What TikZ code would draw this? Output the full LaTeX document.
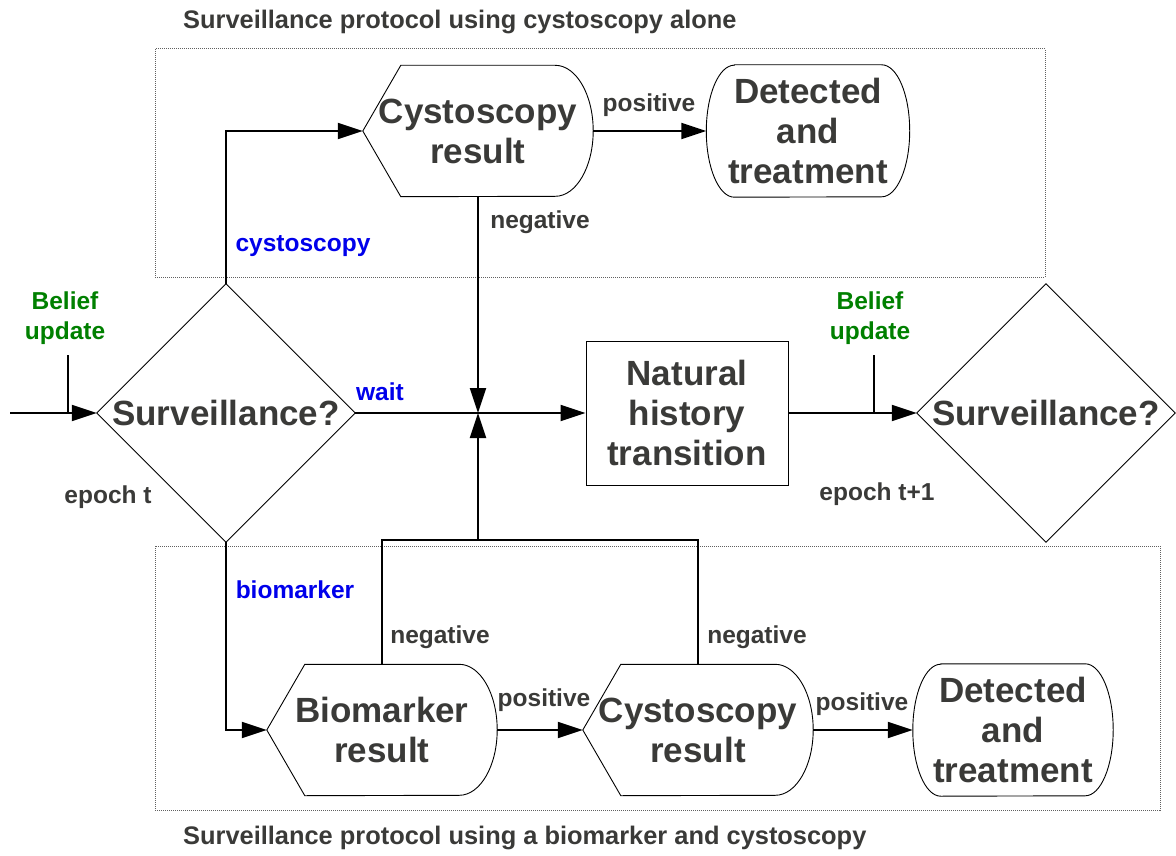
\documentclass[tikz,border=0pt]{standalone}
\usepackage{fontspec}
\setmainfont{Liberation Sans}
\usetikzlibrary{arrows.meta}
\definecolor{txt}{RGB}{58,58,56}
\definecolor{grn}{RGB}{0,128,0}
\definecolor{blu}{RGB}{0,0,235}
\newcommand\DispOutline[1]{\draw[outl] (#1.west) -- ([xshift=38pt]#1.north west) -- ([xshift=-38pt]#1.north east) arc[start angle=90,end angle=-90,x radius=38pt,y radius=65.5pt] -- ([xshift=38pt]#1.south west) -- cycle;}
\newcommand\TermOutline[1]{\draw[outl] ([xshift=28pt]#1.north west) -- ([xshift=-28pt]#1.north east) arc[start angle=90,end angle=-90,x radius=28pt,y radius=66pt] -- ([xshift=28pt]#1.south west) arc[start angle=270,end angle=90,x radius=28pt,y radius=66pt] -- cycle;}
\newcommand\DiaOutline[1]{\draw[outl] (#1.west) -- (#1.north) -- (#1.east) -- (#1.south) -- cycle;}
\begin{document}
\begin{tikzpicture}[x=1pt,y=-1pt,
  big/.style={font=\fontsize{35}{40}\selectfont\bfseries, text=txt, align=center, inner sep=0pt},
  lbl/.style={font=\fontsize{24.5}{30}\selectfont\bfseries, text=txt, align=center, inner sep=0pt},
  ttl/.style={lbl, font=\fontsize{25.4}{30}\selectfont\bfseries, anchor=west},
  glbl/.style={lbl, text=grn},
  blbl/.style={lbl, text=blu},
  disp/.style={big, minimum width=230pt, minimum height=131pt},
  term/.style={big, minimum width=203pt, minimum height=132pt},
  dia/.style={big, minimum width=258pt, minimum height=258pt},
  outl/.style={draw=black, line width=0.9pt},
  conn/.style={draw=black, line width=2pt},
  arr/.style={conn, -{Triangle[length=25pt,width=16pt]}},
  frame/.style={draw=gray!75!black, densely dotted, line width=1pt}]
\useasboundingbox (0,0) rectangle (1176,856);

% frames
\draw[frame] (155,49) rectangle (1045,277);
\draw[frame] (155,546) rectangle (1160,810);
\node[ttl] (t1) at (183,22) {Surveillance protocol using cystoscopy alone};
\node[ttl] (t2) at (183,838) {Surveillance protocol using a biomarker and cystoscopy};

% nodes
\node[dia] (d1) at (226,413) {Surveillance?};
\node[dia] (d2) at (1046,413) {Surveillance?};
\node[big, draw=black, line width=0.9pt, minimum width=202pt, minimum height=144pt] (nh) at (687,413) {Natural\\history\\transition};
\node[disp] (cy1) at (478,131) {Cystoscopy\\result};
\node[term] (de1) at (808,131) {Detected\\and\\treatment};
\node[disp] (bm) at (382,730) {Biomarker\\result};
\node[disp] (cy2) at (698,730) {Cystoscopy\\result};
\node[term, minimum width=200pt] (de2) at (1013,730) {Detected\\and\\treatment};
\DiaOutline{d1}
\DiaOutline{d2}
\DispOutline{cy1}
\DispOutline{bm}
\DispOutline{cy2}
\TermOutline{de1}
\TermOutline{de2}

% coordinates
\coordinate (in) at (10,413);
\coordinate (b1) at (68,355);
\coordinate (b1e) at (68,413);
\coordinate (b2) at (874,355);
\coordinate (b2e) at (874,413);
\coordinate (J) at (478,413);
\coordinate (top) at (478,540);

% connectors
\draw[arr] (in) -- (d1.west);
\draw[conn] (b1) -- (b1e);
\draw[conn] (d1.east) -- (J);
\draw[arr] (J) -- (nh.west);
\draw[arr] (cy1.south) -- (J);
\draw[conn] (bm.north) |- (top) -| (cy2.north);
\draw[arr] (top) -- (J);
\draw[arr] (d1.north) |- (cy1.west);
\draw[arr] (d1.south) |- (bm.west);
\draw[arr] (cy1.east) -- (de1.west);
\draw[arr] (bm.east) -- (cy2.west);
\draw[arr] (cy2.east) -- (de2.west);
\draw[arr] (nh.east) -- (d2.west);
\draw[conn] (b2) -- (b2e);

% labels
\node[glbl] (bu1) at (65,318) {Belief\\update};
\node[glbl] (bu2) at (870,318) {Belief\\update};
\node[lbl] (ep1) at (108,497) {epoch t};
\node[lbl] (ep2) at (877,494) {epoch t+1};
\node[blbl] (lw) at (380,392) {wait};
\node[blbl] (lc) at (303,246) {cystoscopy};
\node[blbl] (lb) at (295,590) {biomarker};
\node[lbl] (n1) at (540,222) {negative};
\node[lbl] (n2) at (440,637) {negative};
\node[lbl] (n3) at (757,637) {negative};
\node[lbl] (p1) at (649,105) {positive};
\node[lbl] (p2) at (544,700) {positive};
\node[lbl] (p3) at (862,704) {positive};
\end{tikzpicture}
\end{document}
